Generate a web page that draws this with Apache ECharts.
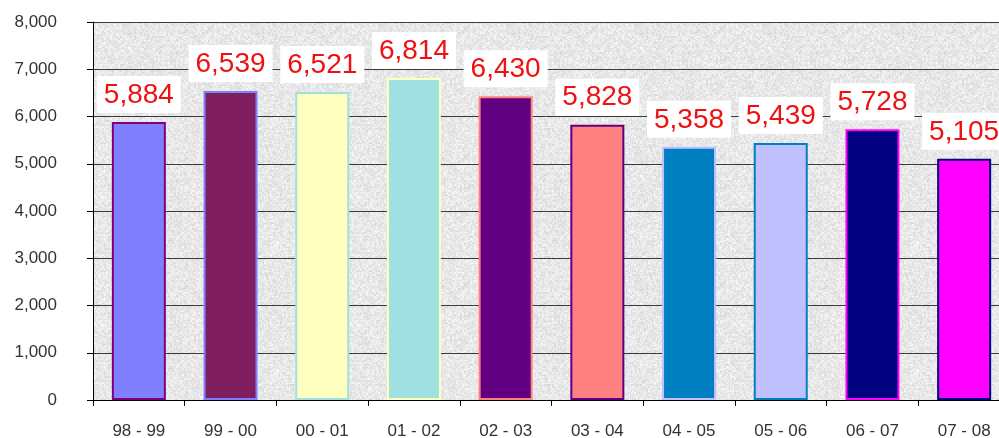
<!DOCTYPE html>
<html><head><meta charset="utf-8">
<script src="https://cdn.jsdelivr.net/npm/echarts@6/dist/echarts.min.js"></script>
<style>html,body{margin:0;padding:0;background:#fff}#c{width:999px;height:438px}</style>
</head><body><div id="c"></div>
<script>
var categories = ['98 - 99','99 - 00','00 - 01','01 - 02','02 - 03','03 - 04','04 - 05','05 - 06','06 - 07','07 - 08'];
var values = [5884, 6539, 6521, 6814, 6430, 5828, 5358, 5439, 5728, 5105];
var fillColors = ['#8080ff','#7f1f5f','#ffffc0','#a0e0e0','#600080','#ff8080','#0080c0','#c0c0ff','#000080','#ff00ff'];
var borderColors = ['#800080','#8080ff','#a0e0e0','#ffffc0','#ff8080','#600080','#c0c0ff','#0080c0','#ff00ff','#000080'];

// decorative granite-like texture (deterministic hash, not data)
var tex = document.createElement('canvas');
tex.width = 128; tex.height = 128;
var tctx = tex.getContext('2d');
var img = tctx.createImageData(128, 128);
for (var y = 0; y < 128; y++) {
  for (var x = 0; x < 128; x++) {
    var h = Math.sin((x * 127.1 + y * 311.7)) * 43758.5453;
    h = h - Math.floor(h);
    var h2 = Math.sin(((x >> 1) * 269.5 + (y >> 1) * 183.3)) * 23421.631;
    h2 = h2 - Math.floor(h2);
    var g = Math.round(212 + h * 22 + h2 * 18);
    if (g > 255) g = 255;
    var k = (y * 128 + x) * 4;
    img.data[k] = g; img.data[k + 1] = g; img.data[k + 2] = g; img.data[k + 3] = 255;
  }
}
tctx.putImageData(img, 0, 0);

var chart = echarts.init(document.getElementById('c'));
chart.setOption({
  animation: false,
  backgroundColor: '#ffffff',
  grid: { left: 93, top: 22, width: 917, height: 378, show: true, outerBoundsMode: 'none', containLabel: false,
    backgroundColor: { image: tex, repeat: 'repeat' }, borderWidth: 0 },
  xAxis: {
    type: 'category', data: categories,
    axisLine: { lineStyle: { color: '#000', width: 1 } },
    axisTick: { show: true, length: 6, lineStyle: { color: '#000' } },
    axisLabel: { color: '#333', fontFamily: 'Liberation Sans, Arial', fontSize: 17, margin: 23 }
  },
  yAxis: {
    type: 'value', min: 0, max: 8000, interval: 1000,
    axisLine: { show: true, lineStyle: { color: '#000', width: 1 } },
    axisTick: { show: true, length: 6, lineStyle: { color: '#000' } },
    splitLine: { lineStyle: { color: '#3a3a3a', width: 1 } },
    axisLabel: { color: '#333', fontFamily: 'Liberation Sans, Arial', fontSize: 17, margin: 36,
      formatter: function (v) { return v.toLocaleString('en-US'); } }
  },
  series: [{
    type: 'bar', barWidth: 54,
    data: values.map(function (v, i) {
      return { value: v, itemStyle: { color: fillColors[i], borderColor: borderColors[i], borderWidth: 2 } };
    }),
    label: {
      show: true, position: 'top', distance: 9,
      color: '#ee1111', fontFamily: 'Liberation Sans, Arial', fontSize: 28,
      backgroundColor: '#ffffff', padding: [5, 7, 4, 7],
      formatter: function (p) { return p.value.toLocaleString('en-US'); }
    }
  }]
});
</script></body></html>
